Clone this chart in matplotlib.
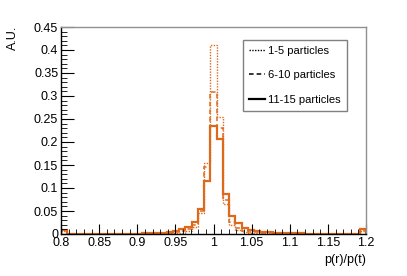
import numpy as np
import matplotlib.pyplot as plt
from matplotlib.lines import Line2D
from matplotlib.ticker import MultipleLocator, FormatStrFormatter

plt.rcParams['font.family'] = ['Liberation Sans', 'DejaVu Sans']

# 49 bins from 0.8 to 1.2
x_min, x_max, n_bins = 0.8, 1.2, 49

labels = ["1-5 particles", "6-10 particles", "11-15 particles"]
styles = [(0, (1, 1)), (0, (3, 2)), "-"]
widths = [1.0, 1.1, 1.6]

p1_5 = [0.006, 0.0005, 0.0005, 0.0005, 0.0005, 0.0005, 0.0005, 0.0005, 0.0005, 0.0005,
        0.0005, 0.0005, 0.0005, 0.0006, 0.0008, 0.001, 0.0012, 0.0015, 0.002, 0.003,
        0.006, 0.015, 0.045, 0.155, 0.41, 0.255, 0.066, 0.02, 0.008, 0.004,
        0.003, 0.002, 0.0015, 0.001, 0.001, 0.0008, 0.0006, 0.0005, 0.0005, 0.0005,
        0.0005, 0.0005, 0.0005, 0.0005, 0.0005, 0.0005, 0.0005, 0.0005, 0.006]
p6_10 = [0.007, 0.0006, 0.0006, 0.0006, 0.0006, 0.0006, 0.0006, 0.0006, 0.0006, 0.0006,
         0.0006, 0.0007, 0.0008, 0.001, 0.0012, 0.0015, 0.002, 0.003, 0.004, 0.006,
         0.01, 0.02, 0.05, 0.145, 0.308, 0.23, 0.075, 0.027, 0.012, 0.007,
         0.005, 0.004, 0.003, 0.002, 0.0015, 0.0012, 0.001, 0.0008, 0.0006, 0.0006,
         0.0006, 0.0006, 0.0006, 0.0006, 0.0006, 0.0006, 0.0006, 0.0006, 0.008]
p11_15 = [0.009, 0.0008, 0.0008, 0.0008, 0.0008, 0.0008, 0.0008, 0.0008, 0.0008, 0.0008,
          0.0009, 0.001, 0.001, 0.0015, 0.002, 0.002, 0.003, 0.005, 0.007, 0.0115,
          0.016, 0.027, 0.054, 0.116, 0.234, 0.207, 0.087, 0.040, 0.023, 0.013,
          0.009, 0.007, 0.005, 0.004, 0.003, 0.003, 0.002, 0.0015, 0.0012, 0.001,
          0.001, 0.0008, 0.0008, 0.0008, 0.0008, 0.0008, 0.0008, 0.0008, 0.011]

edges = np.linspace(x_min, x_max, n_bins + 1)
orange = "#dd6a1c"

fig = plt.figure(figsize=(4.07, 2.76), dpi=100)
ax = fig.add_axes([61 / 407, 1 - 234 / 276, 305 / 407, 207 / 276])

for vals, ls, lw in zip([p1_5, p6_10, p11_15], styles, widths):
    ax.stairs(vals, edges, color=orange, linestyle=ls, linewidth=lw)

ax.set_xlim(x_min, x_max)
ax.set_ylim(0, 0.45)

ax.xaxis.set_major_locator(MultipleLocator(0.05))
ax.xaxis.set_minor_locator(MultipleLocator(0.01))
ax.yaxis.set_major_locator(MultipleLocator(0.05))
ax.yaxis.set_minor_locator(MultipleLocator(0.01))
ax.xaxis.set_major_formatter(FormatStrFormatter("%g"))
ax.yaxis.set_major_formatter(FormatStrFormatter("%g"))

ax.tick_params(which="both", direction="in", labelsize=9, top=False, right=False)
ax.tick_params(axis="y", which="major", length=9, pad=2)
ax.tick_params(axis="y", which="minor", length=4.5)
ax.tick_params(axis="x", which="major", length=7, pad=2)
ax.tick_params(axis="x", which="minor", length=3.5)

for s in ["top", "right"]:
    ax.spines[s].set_color("#909090")
for s in ax.spines.values():
    s.set_linewidth(1)

fig.text(19 / 407, 1 - 26 / 276, "A.U.", rotation=90, ha="right", va="top", fontsize=9)
fig.text(366 / 407, 1 - 254 / 276, "p(r)/p(t)", ha="right", va="top", fontsize=9)

handles = [Line2D([], [], color="black", linestyle=ls, linewidth=lw)
           for ls, lw in zip(styles, widths)]
leg = ax.legend(handles, labels, loc="upper left", bbox_to_anchor=(0.596, 0.939),
                fontsize=8, frameon=True, fancybox=False, shadow=False,
                handlelength=1.45, handletextpad=0.3, labelspacing=1.3,
                borderpad=0.55, borderaxespad=0)
leg.get_frame().set_edgecolor("#606060")
leg.get_frame().set_linewidth(1)

fig.savefig("out.png", dpi=100)
